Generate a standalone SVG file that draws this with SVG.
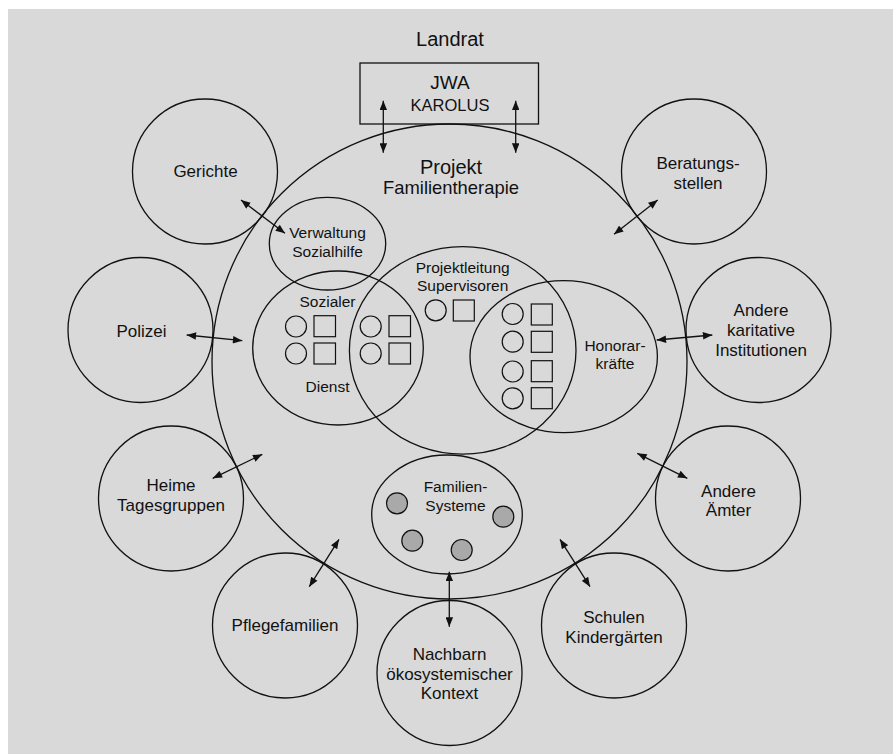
<svg xmlns="http://www.w3.org/2000/svg" width="896" height="754" viewBox="0 0 896 754">
<defs>
<style>
.sh{fill:none;stroke:#111;stroke-width:1.3}
.sym{fill:none;stroke:#111;stroke-width:1.2}
.fam{fill:#a9a9a9;stroke:#111;stroke-width:1.2}
text{font-family:"Liberation Sans",Arial,Helvetica,sans-serif;fill:#111;text-anchor:middle}
.t17{font-size:17px}
.t15{font-size:15.5px}
.con line{stroke:#111;stroke-width:1.3;marker-start:url(#ah);marker-end:url(#ah)}
</style>
<marker id="ah" viewBox="0 0 10 8" refX="10" refY="4" markerWidth="10" markerHeight="7.5" markerUnits="userSpaceOnUse" orient="auto-start-reverse">
<path d="M0,0 L10,4 L0,8 z" fill="#111"/>
</marker>
</defs>
<rect x="0" y="0" width="896" height="754" fill="#ffffff"/>
<rect x="8" y="9" width="885" height="745" fill="#d9d9d9"/>

<g id="landrat">
<text x="450" y="45.5" style="font-size:20px">Landrat</text>
</g>
<g id="jwa">
<rect x="360" y="63" width="178.5" height="61" class="sh"/>
<text x="450" y="89" style="font-size:19px">JWA</text>
<text x="450" y="110.5" style="font-size:16.5px">KAROLUS</text>
</g>

<g id="projekt">
<circle cx="449.5" cy="361.5" r="237.5" class="sh"/>
<text x="451" y="174" style="font-size:20px">Projekt</text>
<text x="451" y="194" style="font-size:18.4px">Familientherapie</text>
</g>

<g id="gerichte">
<circle cx="205" cy="171.5" r="72.5" class="sh"/>
<text x="205.5" y="176.5" class="t17">Gerichte</text>
</g>
<g id="polizei">
<circle cx="140.5" cy="330" r="72.5" class="sh"/>
<text x="141.5" y="336.5" class="t17">Polizei</text>
</g>
<g id="heime">
<circle cx="171" cy="498.5" r="72.5" class="sh"/>
<text x="171" y="490.5" class="t17">Heime</text>
<text x="171" y="510.5" class="t17">Tagesgruppen</text>
</g>
<g id="pflegefamilien">
<circle cx="285" cy="625.5" r="72.5" class="sh"/>
<text x="285" y="630.5" class="t17">Pflegefamilien</text>
</g>
<g id="nachbarn">
<circle cx="449.5" cy="673" r="72.5" class="sh"/>
<text x="449.5" y="659.5" class="t17">Nachbarn</text>
<text x="449.5" y="679.5" class="t17">ökosystemischer</text>
<text x="449.5" y="698.5" class="t17">Kontext</text>
</g>
<g id="schulen">
<circle cx="614" cy="625.5" r="72.5" class="sh"/>
<text x="614" y="622.5" class="t17">Schulen</text>
<text x="614" y="642.5" class="t17">Kindergärten</text>
</g>
<g id="aemter">
<circle cx="728" cy="498.5" r="72.5" class="sh"/>
<text x="728.5" y="496.5" class="t17">Andere</text>
<text x="728.5" y="516" class="t17">Ämter</text>
</g>
<g id="karitative">
<circle cx="758.5" cy="330" r="72.5" class="sh"/>
<text x="761" y="315.5" class="t17">Andere</text>
<text x="761" y="336" class="t17">karitative</text>
<text x="761" y="356" class="t17">Institutionen</text>
</g>
<g id="beratung">
<circle cx="694" cy="171.5" r="72.5" class="sh"/>
<text x="698" y="168.5" class="t17">Beratungs-</text>
<text x="698" y="188.5" class="t17">stellen</text>
</g>

<g id="verwaltung">
<ellipse cx="327.5" cy="243.7" rx="58.2" ry="46.3" class="sh"/>
<text x="327.5" y="238.3" class="t15">Verwaltung</text>
<text x="327.5" y="256.7" class="t15">Sozialhilfe</text>
</g>
<g id="sozialer-dienst">
<ellipse cx="338" cy="348" rx="85.3" ry="77" class="sh"/>
<text x="327.5" y="306.7" class="t15">Sozialer</text>
<text x="327.5" y="391.7" class="t15">Dienst</text>
<circle cx="296" cy="326.5" r="10.5" class="sym"/>
<circle cx="296" cy="353.5" r="10.5" class="sym"/>
<rect x="314" y="315.7" width="21.5" height="21" class="sym"/>
<rect x="314" y="343" width="21.5" height="21" class="sym"/>
<circle cx="370.7" cy="326.5" r="10.5" class="sym"/>
<circle cx="370.7" cy="353.5" r="10.5" class="sym"/>
<rect x="389" y="315.7" width="21.5" height="21" class="sym"/>
<rect x="389" y="343" width="21.5" height="21" class="sym"/>
</g>
<g id="projektleitung">
<ellipse cx="462.7" cy="350.4" rx="113.3" ry="103.7" class="sh"/>
<text x="462.7" y="272.7" class="t15">Projektleitung</text>
<text x="462.7" y="291" class="t15">Supervisoren</text>
<circle cx="435.7" cy="310.3" r="10.5" class="sym"/>
<rect x="453.3" y="300" width="21" height="21" class="sym"/>
</g>
<g id="honorarkraefte">
<ellipse cx="563.7" cy="356.7" rx="93.7" ry="76" class="sh"/>
<text x="615" y="350.7" class="t15">Honorar-</text>
<text x="615" y="369.3" class="t15">kräfte</text>
<circle cx="512.7" cy="314" r="10.5" class="sym"/>
<circle cx="512.7" cy="341.7" r="10.5" class="sym"/>
<circle cx="512.7" cy="371.5" r="10.5" class="sym"/>
<circle cx="512.7" cy="398.3" r="10.5" class="sym"/>
<rect x="531.3" y="304" width="21" height="21" class="sym"/>
<rect x="531.3" y="331.3" width="21" height="21" class="sym"/>
<rect x="531.3" y="360.7" width="21" height="21" class="sym"/>
<rect x="531.3" y="387.7" width="21" height="21" class="sym"/>
</g>
<g id="familien-systeme">
<ellipse cx="447" cy="514.5" rx="75.3" ry="59.5" class="sh"/>
<text x="455.5" y="491.7" class="t15">Familien-</text>
<text x="455.5" y="510.7" class="t15">Systeme</text>
<circle cx="397" cy="503.3" r="10.5" class="fam"/>
<circle cx="503.3" cy="516.7" r="10.5" class="fam"/>
<circle cx="412.3" cy="540.7" r="10.5" class="fam"/>
<circle cx="461.7" cy="550" r="10.5" class="fam"/>
</g>

<g id="connectors" class="con">
<line x1="383.3" y1="100.7" x2="383.3" y2="152.7"/>
<line x1="515.7" y1="100.7" x2="515.7" y2="152.7"/>
<line x1="241" y1="200" x2="285" y2="233.3"/>
<line x1="186.7" y1="335" x2="242.3" y2="340.7"/>
<line x1="212.7" y1="478.3" x2="262.3" y2="454.3"/>
<line x1="309.3" y1="586.7" x2="339" y2="539.3"/>
<line x1="449.3" y1="571.7" x2="449.3" y2="626.7"/>
<line x1="560" y1="539.3" x2="590" y2="586.7"/>
<line x1="637.3" y1="453.3" x2="687.3" y2="478.3"/>
<line x1="656.7" y1="340" x2="712.3" y2="335"/>
<line x1="657.7" y1="200" x2="614" y2="234.3"/>
</g>
</svg>
